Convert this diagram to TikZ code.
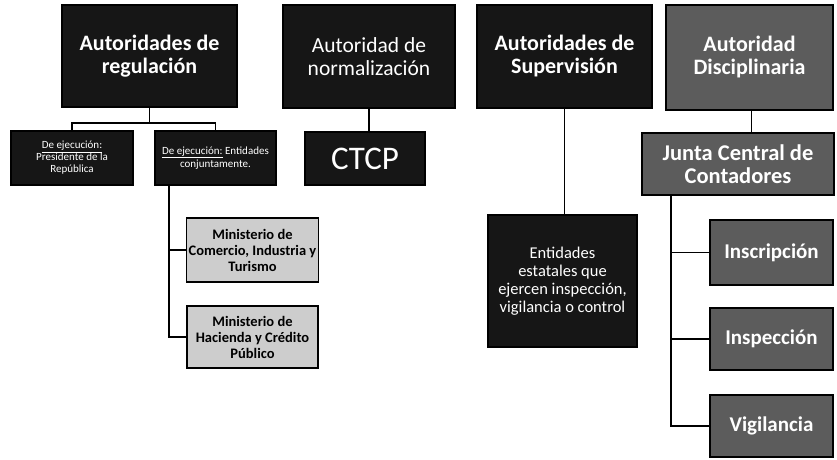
\documentclass[tikz,border=0pt]{standalone}
\usepackage{fontspec}
\setmainfont{Carlito}
\usetikzlibrary{positioning}
\definecolor{darkbox}{HTML}{161616}
\definecolor{graybox}{HTML}{5C5C5C}
\definecolor{lightbox}{HTML}{CDCDCD}
\tikzset{
  box/.style={rectangle, draw=black, line width=1.5pt, align=center, inner sep=2pt},
  darkb/.style={box, fill=darkbox, text=white},
  grayb/.style={box, fill=graybox, text=white, font=\bfseries},
  lightb/.style={box, fill=lightbox, text=black, font=\bfseries},
  conn/.style={draw=black, line width=1.8pt},
}
\begin{document}
\begin{tikzpicture}[x=1pt,y=-1pt]
\useasboundingbox[fill=white] (0,0) rectangle (837,459);
% top row
\node[darkb, minimum width=175pt, minimum height=102pt, font=\bfseries\fontsize{22}{23}\selectfont] (b1) at (149.5,56) {Autoridades de\\regulación};
\node[darkb, minimum width=172pt, minimum height=103pt, font=\fontsize{21.5}{23}\selectfont] (b2) at (369,56.5) {Autoridad de\\normalización};
\node[darkb, minimum width=175pt, minimum height=103pt, font=\bfseries\fontsize{22}{23}\selectfont] (b3) at (564.5,56.5) {Autoridades de\\Supervisión};
\node[grayb, minimum width=167pt, minimum height=105pt, font=\bfseries\fontsize{22}{23}\selectfont] (b4) at (749.5,57.5) {Autoridad\\Disciplinaria};
% second row
\node[darkb, minimum width=122pt, minimum height=54pt, font=\fontsize{11}{12}\selectfont] (sl) at (72,158) {\underline{De ejecución:}\\Presidente de la\\República};
\node[darkb, minimum width=121pt, minimum height=54pt, font=\fontsize{11}{13}\selectfont] (sr) at (215.5,158) {\underline{De ejecución:} Entidades\\conjuntamente.};
\node[darkb, minimum width=120pt, minimum height=53pt, font=\fontsize{33}{34}\selectfont] (ctcp) at (365,158.5) {CTCP};
\node[grayb, minimum width=192pt, minimum height=62pt, font=\bfseries\fontsize{22.5}{23}\selectfont] (ju) at (738,164) {Junta Central de\\Contadores};
% lower
\node[lightb, minimum width=131pt, minimum height=64pt, font=\bfseries\fontsize{14.5}{16}\selectfont] (mc) at (252.5,250) {Ministerio de\\Comercio, Industria y\\Turismo};
\node[lightb, minimum width=131pt, minimum height=62pt, font=\bfseries\fontsize{14.5}{16}\selectfont] (mh) at (252.5,337) {Ministerio de\\Hacienda y Crédito\\Público};
\node[darkb, minimum width=149pt, minimum height=132pt, font=\fontsize{16.5}{18}\selectfont] (en) at (562.5,281) {Entidades\\estatales que\\ejercen inspección,\\vigilancia o control};
\node[grayb, minimum width=123pt, minimum height=65pt, font=\bfseries\fontsize{21}{22}\selectfont] (ins) at (771.5,252.5) {Inscripción};
\node[grayb, minimum width=123pt, minimum height=62pt, font=\bfseries\fontsize{21}{22}\selectfont] (isp) at (771.5,339) {Inspección};
\node[grayb, minimum width=123pt, minimum height=62pt, font=\bfseries\fontsize{21}{22}\selectfont] (vig) at (771.5,426) {Vigilancia};
% connectors
\draw[conn] (b1.south) -- ++(0,15) -| (sl.north);
\draw[conn] (b1.south) -- ++(0,15) -| (sr.north);
\draw[conn] ([xshift=15pt]sr.south west) |- (mc.west);
\draw[conn] ([xshift=15pt]sr.south west) |- (mh.west);
\draw[conn] (b2.south) -- (b2.south |- ctcp.north);
\draw[conn] (b3.south) -- (b3.south |- en.north);
\draw[conn] ([xshift=2pt]b4.south) -- ([xshift=2pt]b4.south |- ju.north);
\draw[conn] ([xshift=30pt]ju.south west) |- (ins.west);
\draw[conn] ([xshift=30pt]ju.south west) |- (isp.west);
\draw[conn] ([xshift=30pt]ju.south west) |- (vig.west);
\end{tikzpicture}
\end{document}
